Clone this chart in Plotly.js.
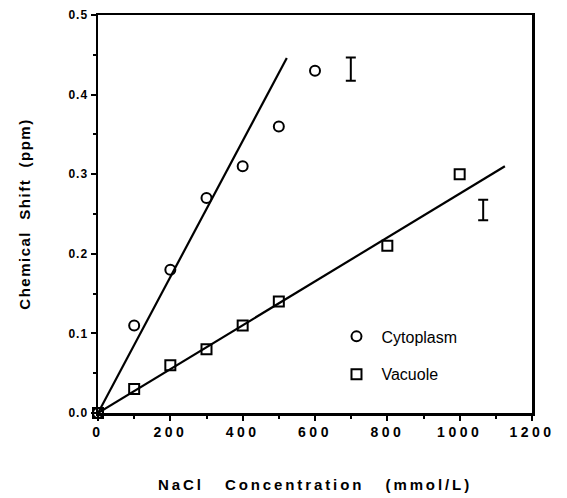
<!DOCTYPE html>
<html>
<head>
<meta charset="utf-8">
<script src="https://cdn.plot.ly/plotly-3.0.1.min.js"></script>
<style>
  html, body { margin: 0; padding: 0; background: #fff; }
  #chart { width: 567px; height: 498px; }
  .xtick text { letter-spacing: 3.5px; }
  .ytick text { letter-spacing: 1px; }
  .g-xtitle text { letter-spacing: 2.9px; }
  .g-ytitle text { letter-spacing: 1.5px; }
</style>
</head>
<body>
<div id="chart"></div>
<script>
// Data
const cytoX = [0, 100, 200, 300, 400, 500, 600];
const cytoY = [0, 0.11, 0.18, 0.27, 0.31, 0.36, 0.43];

const vacX = [0, 100, 200, 300, 400, 500, 800, 1000];
const vacY = [0, 0.03, 0.06, 0.08, 0.11, 0.14, 0.21, 0.30];

// Fitted lines (endpoints as drawn)
const cytoFitX = [0, 522];
const cytoFitY = [0, 0.446];
const vacFitX = [0, 1125];
const vacFitY = [0, 0.31];

// Representative error bars (standalone "I" symbols)
const errX = [699, 1065];
const errY = [0.432, 0.255];
const errHalf = [0.0145, 0.013];

const xTicks = [0, 200, 400, 600, 800, 1000, 1200];
const yTicks = [0.0, 0.1, 0.2, 0.3, 0.4, 0.5];

const FONT = '"Liberation Sans", Arial, Helvetica, sans-serif';
const NB = '\u00a0';

const traces = [
  {
    x: cytoFitX, y: cytoFitY, mode: 'lines', showlegend: false,
    line: { color: '#000', width: 2.2 }, hoverinfo: 'skip', cliponaxis: false
  },
  {
    x: vacFitX, y: vacFitY, mode: 'lines', showlegend: false,
    line: { color: '#000', width: 2.2 }, hoverinfo: 'skip', cliponaxis: false
  },
  {
    x: errX, y: errY, mode: 'markers', showlegend: false,
    marker: { size: 1, color: 'rgba(0,0,0,0)' },
    error_y: { type: 'data', array: errHalf, visible: true, color: '#000', thickness: 2, width: 5 },
    hoverinfo: 'skip', cliponaxis: false
  },
  {
    x: cytoX, y: cytoY, mode: 'markers', name: 'Cytoplasm', legendgroup: 'c',
    marker: { symbol: 'circle-open', size: 10, color: '#000', line: { width: 2, color: '#000' } },
    cliponaxis: false
  },
  {
    x: vacX, y: vacY, mode: 'markers', name: 'Vacuole', legendgroup: 'v',
    marker: { symbol: 'square-open', size: 10, color: '#000', line: { width: 2, color: '#000' } },
    cliponaxis: false
  }
];

const layout = {
  width: 567, height: 498,
  margin: { l: 98, r: 35, t: 15, b: 85 },
  paper_bgcolor: '#fff', plot_bgcolor: '#fff',
  font: { family: FONT, color: '#000' },
  showlegend: true,
  legend: {
    x: 0.538, y: 0.235, xanchor: 'left', yanchor: 'top',
    bgcolor: 'rgba(0,0,0,0)', borderwidth: 0,
    font: { family: FONT, size: 16, color: '#000' },
    traceorder: 'grouped', tracegroupgap: 14, itemwidth: 40
  },
  xaxis: {
    range: [0, 1200], tickvals: xTicks, ticktext: xTicks.map(String),
    showgrid: false, zeroline: false,
    showline: true, linecolor: '#000', linewidth: 2.5, mirror: true,
    ticks: 'outside', ticklen: 5, tickwidth: 2, tickcolor: '#000',
    minor: { dtick: 100, tick0: 0, ticks: 'outside', ticklen: 3, tickwidth: 2, tickcolor: '#000', showgrid: false },
    tickfont: { family: FONT, size: 14, weight: 'bold', color: '#000' },
    title: { text: 'NaCl' + NB + NB + NB + 'Concentration' + NB + NB + NB + '(mmol/L)', standoff: 40,
             font: { family: FONT, size: 15, weight: 'bold', color: '#000' } }
  },
  yaxis: {
    range: [0, 0.5], tickvals: yTicks, ticktext: yTicks.map(v => v.toFixed(1)),
    showgrid: false, zeroline: false,
    showline: true, linecolor: '#000', linewidth: 2.5, mirror: true,
    ticks: 'outside', ticklen: 5, tickwidth: 2, tickcolor: '#000',
    minor: { dtick: 0.05, tick0: 0, ticks: 'outside', ticklen: 3, tickwidth: 2, tickcolor: '#000', showgrid: false },
    tickfont: { family: FONT, size: 12, weight: 'bold', color: '#000' },
    title: { text: NB.repeat(6) + 'Chemical' + NB + NB + 'Shift' + NB + NB + '(ppm)', standoff: 34,
             font: { family: FONT, size: 15, weight: 'bold', color: '#000' } }
  }
};

Plotly.newPlot('chart', traces, layout, { staticPlot: true, displayModeBar: false });
</script>
</body>
</html>
